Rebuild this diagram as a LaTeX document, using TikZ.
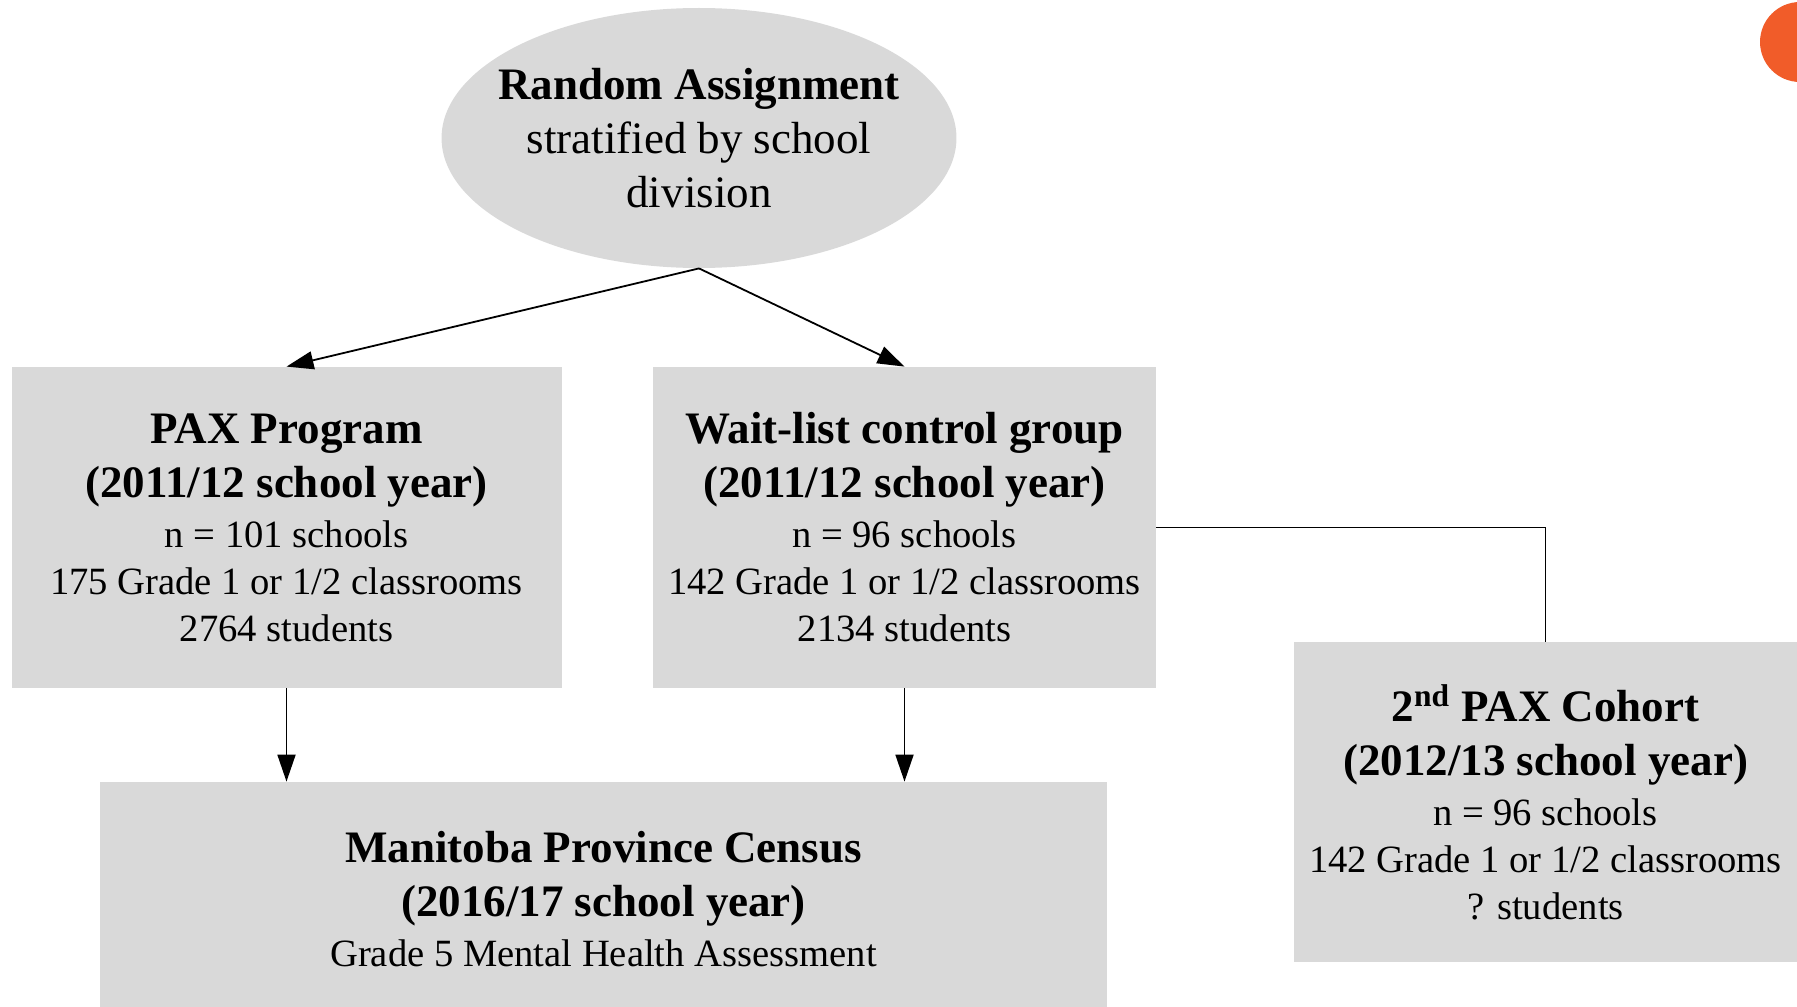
\documentclass[tikz,border=0pt]{standalone}
\usepackage{fontspec}
\setmainfont{Liberation Serif}
\usepackage{tikz}
\usepackage{xcolor}
\usetikzlibrary{arrows.meta,shapes.geometric}
\definecolor{boxgray}{RGB}{217,217,217}
\definecolor{dotorange}{RGB}{241,92,41}
\newcommand{\hd}[1]{{\bfseries\fontsize{22.5}{27}\selectfont #1}}

\begin{document}
\begin{tikzpicture}[x=0.5pt,y=-0.5pt,
    every node/.style={font=\fontsize{19.3}{23.5}\selectfont,align=center,inner sep=0pt},
    grpbox/.style={rectangle,fill=boxgray},
    flow/.style={line width=0.9pt,-{Triangle[length=13.5pt,width=9pt]}}]
      \useasboundingbox (0,0) rectangle (1797,1006);
      \fill[dotorange] (1800,42) circle (20pt);
      \node[ellipse,fill=boxgray,inner xsep=-9.3pt,minimum width=257pt,minimum height=130pt,
            font=\fontsize{22.5}{27}\selectfont] (assign) at (699,138)
            {\textbf{Random Assignment}\\stratified by school\\division};
      \node[grpbox,minimum width=275pt,minimum height=160.5pt] (pax) at (286.5,527.5)
            {\hd{PAX Program}\\[3.5pt]\hd{(2011/12 school year)}\\[1.5pt]
             n = 101 schools\\175 Grade 1 or 1/2 classrooms\\2764 students};
      \node[grpbox,minimum width=251.5pt,minimum height=160.5pt] (wait) at (904.5,527.5)
            {\hd{Wait-list control group}\\[3.5pt]\hd{(2011/12 school year)}\\[1.5pt]
             n = 96 schools\\142 Grade 1 or 1/2 classrooms\\2134 students};
      \node[grpbox,minimum width=503.5pt,minimum height=117pt] (census) at (603.5,899)
            {\hd{Manitoba Province Census}\\[3.5pt]\hd{(2016/17 school year)}\\[1.5pt]
             Grade 5 Mental Health Assessment};
      \node[grpbox,minimum width=251.5pt,minimum height=160pt] (cohort) at (1545.5,802)
            {\hd{2\textsuperscript{nd} PAX Cohort}\\[3.5pt]\hd{(2012/13 school year)}\\[1.5pt]
             n = 96 schools\\142 Grade 1 or 1/2 classrooms\\? students};
      \draw[flow] (assign.south) -- (pax.north);
      \draw[flow] (assign.south) -- (wait.north);
      \draw[flow] (pax.south) -- (pax.south |- census.north);
      \draw[flow] (wait.south) -- (wait.south |- census.north);
      \draw[line width=0.9pt] (wait.east) -| (cohort.north);
    \end{tikzpicture}
\end{document}
